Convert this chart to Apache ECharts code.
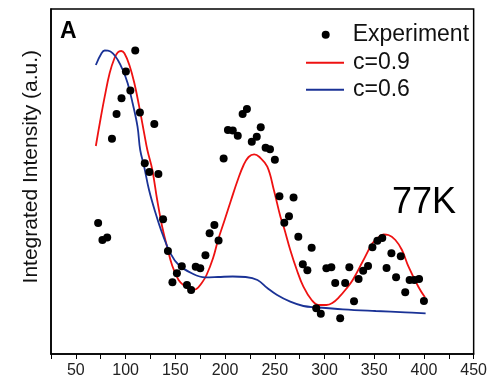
<!DOCTYPE html>
<html>
<head>
<meta charset="utf-8">
<script src="https://cdn.jsdelivr.net/npm/echarts@6/dist/echarts.min.js"></script>
<style>
  html, body { margin: 0; padding: 0; background: #fff; }
  #chart { width: 490px; height: 382px; }
</style>
</head>
<body>
<div id="chart"></div>
<script>
// experiment points (temperature K, integrated intensity a.u.)
const expTemp = [72.4, 76.7, 81.5, 86.3, 90.9, 95.9, 100.3, 104.8, 109.7, 114.4,
  119.3, 123.9, 128.9, 133.0, 137.7, 142.6, 147.1, 151.6, 156.5, 161.7,
  165.9, 170.5, 175.1, 180.3, 184.5, 189.3, 193.5, 198.6, 202.9, 207.8,
  212.8, 217.7, 222.0, 226.9, 231.9, 235.9, 240.8, 245.2, 250.1, 254.7,
  259.6, 264.3, 268.9, 273.7, 278.2, 282.8, 287.1, 291.7, 296.3, 301.9,
  306.9, 310.8, 315.8, 320.8, 325.0, 329.7, 334.3, 338.9, 343.8, 348.2,
  353.2, 358.1, 362.4, 367.3, 372.0, 376.7, 381.2, 385.6, 390.4, 395.1, 400.0];
const expInt = [131, 114, 116.5, 215.3, 240, 255.7, 282.5, 263.5, 303.5, 241.5,
  190.7, 182, 230, 180, 134.7, 103, 71.7, 80.7, 87.7, 69,
  64, 87.3, 85.7, 98.7, 120.7, 129, 113.5, 195.5, 224, 223.5,
  218.3, 240, 245, 212.3, 217.3, 226.7, 206.3, 204.7, 194.3, 157.7,
  131.3, 137.7, 156.5, 117.2, 89.7, 83.7, 106.3, 45.7, 40.3, 85.7,
  86.7, 71, 35.7, 71, 86.7, 52.7, 75, 83.3, 88, 106.7,
  113.3, 116, 86, 100.7, 76.7, 97.7, 61.7, 74, 74, 75, 53];

// fit c=0.9
const fit09Temp = [70.1, 74.1, 79.0, 84.0, 88.9, 92.2, 95.6, 98.8, 103.8, 108.8,
  113.7, 118.7, 121.9, 126.9, 131.8, 136.8, 141.7, 146.7, 153.3, 160.0,
  165.9, 171.2, 176.4, 181.4, 188.0, 193.0, 199.6, 206.1, 212.8, 218.7,
  223.7, 229.3, 234.6, 242.5, 249.1, 255.7, 259.0, 265.6, 272.2, 278.8,
  287.1, 294.0, 301.9, 307.9, 315.1, 321.7, 328.4, 338.3, 348.2, 353.4,
  359.4, 364.3, 371.3, 377.9, 384.5, 394.4, 401.0];
const fit09Int = [208, 231, 257.3, 281, 296, 301.7, 303, 300.7, 289, 271,
  247.3, 220.7, 204, 184, 154, 127.3, 107.3, 89, 74, 67.3,
  64, 65, 70.7, 79, 96, 114, 134, 154, 174, 189,
  197, 199.7, 197, 187.3, 164, 137.3, 127.3, 104, 84, 67.3,
  54, 49, 49, 51, 57.3, 65, 74, 92.3, 110.7, 116,
  119.5, 119, 114, 104, 87.3, 67.3, 56.7];

// fit c=0.6
const fit06Temp = [70.1, 75.8, 79.0, 82.3, 87.2, 92.2, 97.2, 102.1, 107.1, 112.0,
  114.7, 118.7, 123.6, 130.2, 136.8, 145.1, 153.5, 166.5, 179.8, 193.0,
  207.8, 220.7, 232.6, 242.5, 252.4, 265.6, 278.8, 292.0, 318.5, 351.5, 381.2, 401.7];
const fit06Int = [289, 300.7, 303.5, 303.3, 300.7, 294, 284, 270.7, 250.7, 227.3,
  204, 187.3, 164, 140.7, 120.7, 100.7, 89, 80.7, 76.7, 77,
  77.5, 77, 74, 66, 59, 52.3, 48, 46.7, 44.7, 43, 41.7, 40.7];

const xTicks = [50, 100, 150, 200, 250, 300, 350, 400, 450];

const zip = (a, b) => a.map((v, i) => [v, b[i]]);
const font = '"Liberation Sans", Arial, Helvetica, sans-serif';
const legendText = { fontSize: 23, fontFamily: font, color: '#111', lineHeight: 22 };

const chart = echarts.init(document.getElementById('chart'));
chart.setOption({
  animation: false,
  backgroundColor: '#fff',
  grid: {
    left: 51, right: 10, top: 9, bottom: 28,
    show: true, borderColor: '#000', borderWidth: 1.5
  },
  xAxis: {
    type: 'value', min: 25, max: 450, interval: 25,
    axisLine: { show: true, lineStyle: { color: '#000', width: 1.5 } },
    axisTick: { show: true, length: 5, lineStyle: { color: '#000', width: 1 } },
    axisLabel: {
      color: '#222', fontSize: 16, fontFamily: font, margin: 9,
      showMinLabel: true, showMaxLabel: true,
      formatter: v => xTicks.includes(v) ? String(v) : ''
    },
    splitLine: { show: false }
  },
  yAxis: {
    type: 'value', min: 0, max: 345,
    axisLine: { show: true, lineStyle: { color: '#000', width: 1.5 } },
    axisTick: { show: false },
    axisLabel: { show: false },
    splitLine: { show: false }
  },
  legend: [
    {
      data: ['Experiment'], orient: 'vertical', left: 321.7, top: 23.3, padding: 0,
      itemWidth: 8, itemHeight: 8, icon: 'circle',
      textStyle: { ...legendText, padding: [0, 0, 0, 18] }
    },
    {
      data: ['c=0.9', 'c=0.6'], orient: 'vertical', left: 306, top: 51.3, padding: 0,
      itemWidth: 38, itemHeight: 2, itemGap: 4, icon: 'rect',
      textStyle: { ...legendText, padding: [0, 0, 0, 4] }
    }
  ],
  graphic: [
    {
      type: 'text', x: 60, y: 31.5,
      style: { text: 'A', font: 'bold 23px ' + font, fill: '#000', textAlign: 'left', textVerticalAlign: 'middle' }
    },
    {
      type: 'text', x: 392, y: 203,
      style: { text: '77K', font: '36px ' + font, fill: '#000', textAlign: 'left', textVerticalAlign: 'middle' }
    },
    {
      type: 'text', x: 31.5, y: 166.7, rotation: Math.PI / 2,
      style: { text: 'Integrated Intensity (a.u.)', font: '21px ' + font, fill: '#111', textAlign: 'center', textVerticalAlign: 'middle' }
    }
  ],
  series: [
    {
      name: 'c=0.9', type: 'line', data: zip(fit09Temp, fit09Int),
      symbol: 'none', smooth: 0.4,
      lineStyle: { color: '#ee1111', width: 1.8 }, itemStyle: { color: '#ee1111' }
    },
    {
      name: 'c=0.6', type: 'line', data: zip(fit06Temp, fit06Int),
      symbol: 'none', smooth: 0.4,
      lineStyle: { color: '#1a3296', width: 1.8 }, itemStyle: { color: '#1a3296' }
    },
    {
      name: 'Experiment', type: 'scatter', data: zip(expTemp, expInt),
      symbol: 'circle', symbolSize: 8, z: 5,
      itemStyle: { color: '#000', opacity: 1 }
    }
  ]
});
</script>
</body>
</html>
